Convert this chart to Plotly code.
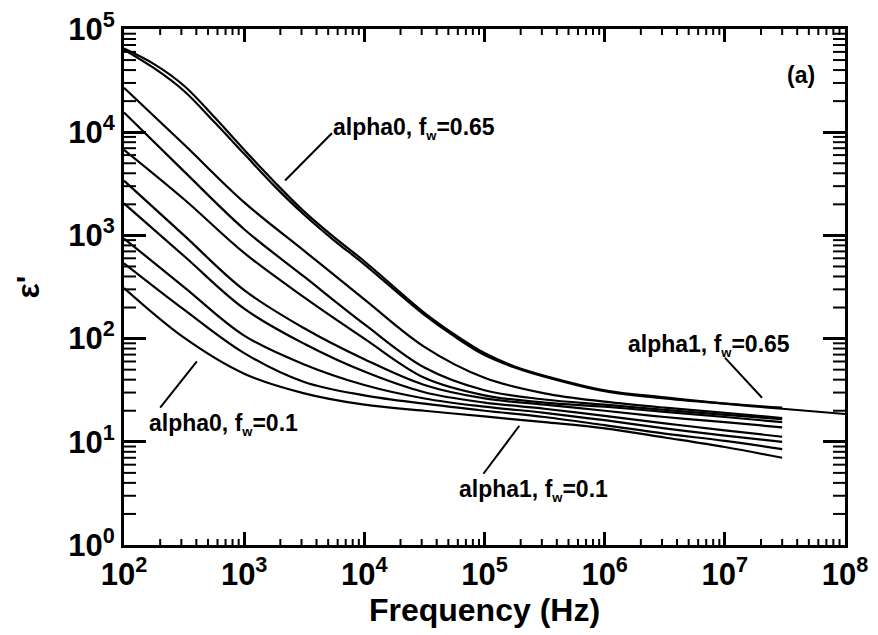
import plotly.graph_objects as go

freq = [100, 316, 1000, 3160, 1e4, 3.16e4, 1e5, 3.16e5, 1e6, 3.16e6, 1e7, 3e7]
freq_top = [100, 178, 316, 562, 1000, 1780, 3160, 5620, 1e4, 3.16e4, 5.62e4, 1e5,
            1.78e5, 3.16e5, 1e6, 3.16e6, 1e7, 3e7, 1e8]

# eps' curves, top (fw=0.65) to bottom (fw=0.1)
c1 = [64600, 45700, 28200, 14100, 6760, 3310, 1698, 955, 562, 178, 110, 72.4,
      53.7, 43.7, 31.6, 26.9, 23.4, 20.9, 18.6]
c2 = [63100, 41700, 25100, 12600, 6170, 3020, 1585, 891, 525, 170, 105, 69.2,
      52.5, 42.7, 30.9, 26.3, 23.4, 21.4]
c3 = [26900, 7590, 2090, 708, 240, 83.2, 41.7, 29.5, 24.5, 21.4, 19.1, 17.0]
c4 = [15500, 4170, 1148, 398, 138, 52.5, 31.6, 25.7, 22.9, 20.4, 18.2, 16.6]
c5 = [6760, 2240, 676, 251, 100, 41.7, 28.2, 24.0, 21.9, 19.5, 17.4, 15.5]
c6 = [3390, 1000, 295, 126, 63.1, 35.5, 26.3, 22.9, 20.0, 17.4, 15.5, 13.8]
c7 = [2040, 631, 195, 89.1, 47.9, 30.2, 24.0, 20.9, 17.8, 15.1, 12.9, 11.2]
c8 = [933, 316, 107, 56.2, 35.5, 26.3, 21.9, 19.1, 16.2, 13.5, 11.5, 10.0]
c9 = [537, 191, 72.4, 38.0, 28.2, 23.4, 20.0, 17.4, 14.5, 12.0, 10.2, 8.5]
c10 = [309, 102, 45.7, 29.5, 22.9, 20.0, 17.6, 15.5, 13.5, 11.0, 8.9, 7.0]
top_curves = [c1, c2]
other_curves = [c3, c4, c5, c6, c7, c8, c9, c10]

x_tickvals = [1e2, 1e3, 1e4, 1e5, 1e6, 1e7, 1e8]
x_ticktext = ["10<sup>2</sup>", "10<sup>3</sup>", "10<sup>4</sup>", "10<sup>5</sup>",
              "10<sup>6</sup>", "10<sup>7</sup>", "10<sup>8</sup>"]
y_tickvals = [1, 10, 100, 1e3, 1e4, 1e5]
y_ticktext = ["10<sup>0</sup>", "10<sup>1</sup>", "10<sup>2</sup>", "10<sup>3</sup>",
              "10<sup>4</sup>", "10<sup>5</sup>"]

FONT = "Liberation Sans, Arial, sans-serif"
SUBW = "f<sub><span style='font-size:13px'>w</span></sub>"

fig = go.Figure()
line_style = dict(color="black", width=2.2)
for c in top_curves:
    fig.add_trace(go.Scatter(x=freq_top[:len(c)], y=c, mode="lines", line_shape="spline",
                             line=line_style, showlegend=False, hoverinfo="skip"))
for c in other_curves:
    fig.add_trace(go.Scatter(x=freq[:len(c)], y=c, mode="lines", line_shape="spline",
                             line=line_style, showlegend=False, hoverinfo="skip"))

# pointer lines (data coordinates)
pointers = [
    ((2190, 3400), (5370, 9770)),
    ((200, 21.4), (404, 60)),
    ((9.8e4, 4.9), (1.95e5, 14.3)),
    ((1.0e7, 65.5), (2.04e7, 26.7)),
]
for (a, b) in pointers:
    fig.add_shape(type="line", xref="x", yref="y", x0=a[0], y0=a[1], x1=b[0], y1=b[1],
                  line=dict(color="black", width=2))

labels = [
    ("alpha0, " + SUBW + "=0.65", 3.72, 4.04),
    ("alpha0, " + SUBW + "=0.1", 2.19, 1.165),
    ("alpha1, " + SUBW + "=0.1", 4.77, 0.524),
    ("alpha1, " + SUBW + "=0.65", 6.18, 1.93),
]
for t, lx, ly in labels:
    fig.add_annotation(text=t, x=lx, y=ly, xref="x", yref="y", showarrow=False,
                       xanchor="left", yanchor="middle",
                       font=dict(family=FONT, size=23, color="black", weight="bold"))
fig.add_annotation(text="(a)", x=7.63, y=4.55, xref="x", yref="y", showarrow=False,
                   font=dict(family=FONT, size=23, color="black", weight="bold"))

# minor ticks (2..9 within each decade) drawn inside on all four sides
x_minor = [m * 10 ** k for k in range(2, 8) for m in range(2, 10)]
y_minor = [m * 10 ** k for k in range(0, 5) for m in range(2, 10)]
tick_line = dict(color="black", width=2)
for v in x_minor:
    fig.add_shape(type="line", xref="x", yref="paper", ysizemode="pixel", yanchor=0,
                  x0=v, x1=v, y0=0, y1=6, line=tick_line)
    fig.add_shape(type="line", xref="x", yref="paper", ysizemode="pixel", yanchor=1,
                  x0=v, x1=v, y0=0, y1=-6, line=tick_line)
for v in y_minor:
    fig.add_shape(type="line", yref="y", xref="paper", xsizemode="pixel", xanchor=0,
                  y0=v, y1=v, x0=0, x1=12, line=tick_line)
    fig.add_shape(type="line", yref="y", xref="paper", xsizemode="pixel", xanchor=1,
                  y0=v, y1=v, x0=0, x1=-12, line=tick_line)

axis_common = dict(
    type="log", showgrid=False, zeroline=False, automargin=False,
    showline=True, linecolor="black", linewidth=3, mirror="ticks",
    ticks="inside", tickwidth=2.5, tickcolor="black", ticklabeloverflow="allow",
    tickfont=dict(family=FONT, size=31, color="black", weight="bold"),
)

fig.update_xaxes(**axis_common, range=[2, 8], tickvals=x_tickvals, ticktext=x_ticktext,
                 ticklen=13,
                 title=dict(text="Frequency (Hz)", standoff=8,
                            font=dict(family=FONT, size=32, color="black", weight="bold")))
fig.update_yaxes(**axis_common, range=[0, 5], tickvals=y_tickvals, ticktext=y_ticktext,
                 ticklen=22,
                 title=dict(text="ε'", standoff=20,
                            font=dict(family=FONT, size=32, color="black", weight="bold")))

fig.update_layout(
    width=878, height=635,
    margin=dict(l=124, r=33, t=29, b=90),
    paper_bgcolor="white", plot_bgcolor="white",
    font=dict(family=FONT, color="black"),
)

# remove the default page-body margin so the figure sits at the window origin
fig.write_html("out.html", config={"displayModeBar": False},
               post_script="document.body.style.margin='0';document.body.style.overflow='hidden';")
